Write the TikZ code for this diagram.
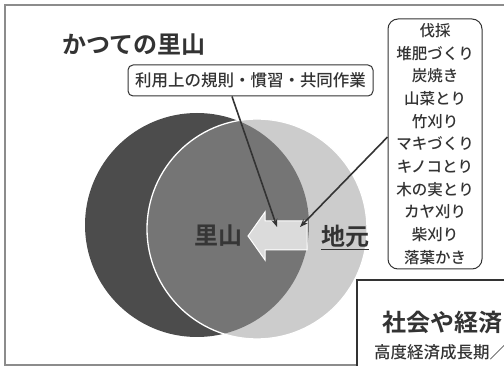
\documentclass[tikz,border=0pt]{standalone}
\usepackage{fontspec}
\usetikzlibrary{arrows.meta}
\newfontfamily\jp{Noto Sans CJK JP Medium}[BoldFont={Noto Sans CJK JP Bold}]
\definecolor{darkc}{gray}{0.30}
\definecolor{midc}{gray}{0.46}
\definecolor{lightc}{gray}{0.80}
\definecolor{arrowc}{gray}{0.86}
\definecolor{inkc}{gray}{0.2}
\definecolor{framec}{gray}{0.55}
\tikzset{
  rbox/.style={draw=inkc, line width=1pt, rounded corners=5pt, inner sep=0pt, fill=white},
  listbox/.style={draw=inkc, line width=1pt, rounded corners=10pt, inner sep=0pt, align=center, fill=white},
  conn/.style={draw=inkc, line width=1.6pt, -{Stealth[length=8pt,width=6pt]}},
  bigtxt/.style={font=\jp\bfseries\fontsize{24}{26}\selectfont, inner sep=0pt},
}
\begin{document}
\begin{tikzpicture}[x=1pt,y=-1pt]
\useasboundingbox (0,0) rectangle (504,366);
\begin{scope}
\clip (0,0) rectangle (504,366);
\fill[white] (0,0) rectangle (504,366);
\draw[framec, line width=1.2pt] (5,5) rectangle (520,365);
% circles
\fill[darkc] (197,225) circle[radius=112pt];
\fill[lightc] (257,229) circle[radius=110pt];
\begin{scope}
\clip (197,225) circle[radius=112pt];
\fill[midc] (257,229) circle[radius=110pt];
\end{scope}
\draw[white, line width=1.3pt] (257,229) circle[radius=110pt];
% block arrow
\draw[white, line width=1pt, fill=arrowc] (248,236) -- (265,212) -- (265,221) -- (307,221) -- (307,250) -- (265,250) -- (265,260) -- cycle;
\node[bigtxt, text=darkc!70!black] (satoyama) at (218,236) {里山};
\node[bigtxt, text=inkc] (jimoto) at (345,236) {地元};
\draw[inkc, line width=1.5pt] ([yshift=-2pt]jimoto.south west) -- ([yshift=-2pt]jimoto.south east);
% title
\node[font=\jp\bfseries\fontsize{24}{26}\selectfont, text=inkc, inner sep=0pt] (title) at (134,45) {かつての里山};
% rule box
\node[rbox, minimum width=245pt, minimum height=31pt, font=\jp\fontsize{16.5}{18}\selectfont, text=inkc] (rule) at (250.5,80.5) {利用上の規則・慣習・共同作業};
% list box
\node[listbox, minimum width=94pt, minimum height=250pt, font=\jp\fontsize{15.5}{22.7}\selectfont, text=inkc] (list) at (435,144) {伐採\\堆肥づくり\\炭焼き\\山菜とり\\竹刈り\\マキづくり\\キノコとり\\木の実とり\\カヤ刈り\\柴刈り\\落葉かき};
% connectors
\coordinate (a1) at (277,227);
\coordinate (a2) at (300,227);
\draw[conn] ([xshift=-18.5pt]rule.south) -- (a1);
\draw[conn] ([yshift=7pt]list.west) -- (a2);
% bottom right box
\draw[inkc, line width=1.6pt, fill=white] (357,380) -- (357,280) -- (520,280) -- (520,380) -- cycle;
\node[font=\jp\bfseries\fontsize{24}{26}\selectfont, text=inkc, inner sep=0pt, anchor=west] (soc) at (382,323) {社会や経済};
\node[font=\jp\fontsize{16.5}{18}\selectfont, text=inkc, inner sep=0pt, anchor=west] (hig) at (374,352) {高度経済成長期／};
\end{scope}
\end{tikzpicture}
\end{document}
